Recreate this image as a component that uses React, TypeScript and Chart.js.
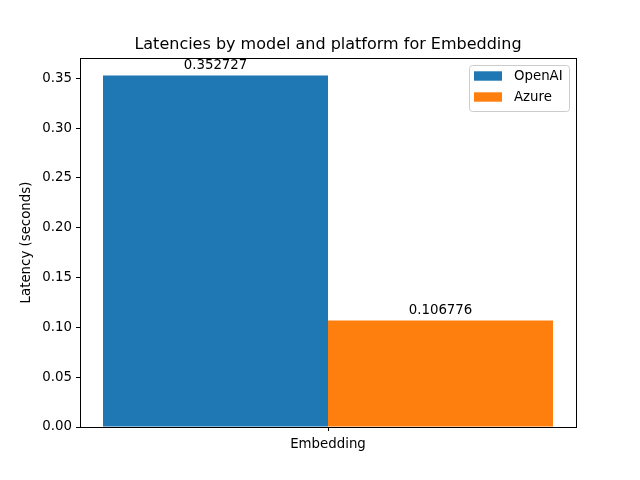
import React, { useEffect, useRef } from 'react';
import { Chart, registerables } from 'chart.js';

Chart.register(...registerables);

const categories = ['Embedding'];
const seriesNames = ['OpenAI', 'Azure'];
const openaiValues = [0.352727];
const azureValues = [0.106776];
const seriesColors = ['#1f77b4', '#ff7f0e'];
const yTicks = [0, 0.05, 0.1, 0.15, 0.2, 0.25, 0.3, 0.35];
const titleText = 'Latencies by model and platform for Embedding';
const yLabel = 'Latency (seconds)';

const FONT = '"DejaVu Sans", sans-serif';

const decorPlugin = {
  id: 'decor',
  afterDatasetsDraw(chart: any) {
    const ctx = chart.ctx;
    const area = chart.chartArea;
    ctx.save();
    // value labels
    ctx.fillStyle = '#000';
    ctx.font = `13.33px ${FONT}`;
    ctx.textAlign = 'center';
    ctx.textBaseline = 'alphabetic';
    chart.data.datasets.forEach((ds: any, i: number) => {
      const meta = chart.getDatasetMeta(i);
      meta.data.forEach((bar: any, j: number) => {
        ctx.fillText(String(ds.data[j]), bar.x, bar.y - 7);
      });
    });
    // spines
    ctx.strokeStyle = '#000';
    ctx.lineWidth = 1;
    ctx.strokeRect(
      Math.round(area.left) + 0.5,
      Math.round(area.top) + 0.5,
      Math.round(area.right) - Math.round(area.left),
      Math.round(area.bottom) - Math.round(area.top)
    );
    // title
    ctx.font = `16px ${FONT}`;
    ctx.textAlign = 'center';
    ctx.textBaseline = 'alphabetic';
    ctx.fillText(titleText, (area.left + area.right) / 2, area.top - 9);
    // y label
    ctx.save();
    ctx.translate(27, (area.top + area.bottom) / 2);
    ctx.rotate(-Math.PI / 2);
    ctx.font = `13.33px ${FONT}`;
    ctx.textAlign = 'center';
    ctx.textBaseline = 'middle';
    ctx.fillText(yLabel, 0, 0);
    ctx.restore();
    // legend
    const lx = 469.5, ly = 65.5, lw = 100, lh = 46;
    ctx.beginPath();
    (ctx as any).roundRect(lx, ly, lw, lh, 3);
    ctx.fillStyle = 'rgba(255,255,255,0.8)';
    ctx.fill();
    ctx.strokeStyle = '#cccccc';
    ctx.stroke();
    ctx.font = `13.33px ${FONT}`;
    ctx.textAlign = 'left';
    ctx.textBaseline = 'middle';
    seriesNames.forEach((name, i) => {
      const cy = 76 + i * 21;
      ctx.fillStyle = seriesColors[i];
      ctx.fillRect(474, cy - 4.7, 28, 9.4);
      ctx.fillStyle = '#000';
      ctx.fillText(name, 514, cy + 1);
    });
    ctx.restore();
  },
};

function App() {
  const ref = useRef<HTMLCanvasElement>(null);
  useEffect(() => {
    if (!ref.current) return;
    const yMax = Math.max(...openaiValues, ...azureValues) * 1.05;
    const chart = new Chart(ref.current, {
      type: 'bar',
      data: {
        labels: categories,
        datasets: [
          { label: seriesNames[0], data: openaiValues, backgroundColor: seriesColors[0], borderWidth: 0 },
          { label: seriesNames[1], data: azureValues, backgroundColor: seriesColors[1], borderWidth: 0 },
        ],
      },
      options: {
        responsive: false,
        animation: false,
        devicePixelRatio: 1,
        layout: { padding: { left: 0, top: 58, right: 64, bottom: 0 } },
        plugins: {
          legend: { display: false },
          title: { display: false },
          tooltip: { enabled: false },
        },
        datasets: { bar: { categoryPercentage: 450 / 496, barPercentage: 1 } },
        scales: {
          x: {
            grid: { display: true, offset: false, drawOnChartArea: false, drawTicks: true, tickLength: 4, color: '#000' },
            border: { display: false },
            ticks: { color: '#000', font: { family: FONT, size: 13.33 }, padding: 6, maxRotation: 0 },
            afterFit(scale: any) { scale.height = 53; },
          },
          y: {
            min: 0,
            max: yMax,
            grid: { display: true, drawOnChartArea: false, drawTicks: true, tickLength: 4, color: '#000' },
            border: { display: false },
            ticks: {
              color: '#000',
              font: { family: FONT, size: 13.33 },
              padding: 4,
              callback: (v: any) => Number(v).toFixed(2),
            },
            afterBuildTicks(scale: any) {
              scale.ticks = yTicks.map((v) => ({ value: v }));
            },
            afterFit(scale: any) { scale.width = 80; },
          },
        },
      },
      plugins: [decorPlugin],
    });
    return () => chart.destroy();
  }, []);
  return (
    <div style={{ position: 'absolute', left: 0, top: 0, width: 640, height: 480, background: '#fff' }}>
      <canvas ref={ref} width={640} height={480} />
    </div>
  );
}

export default App;
